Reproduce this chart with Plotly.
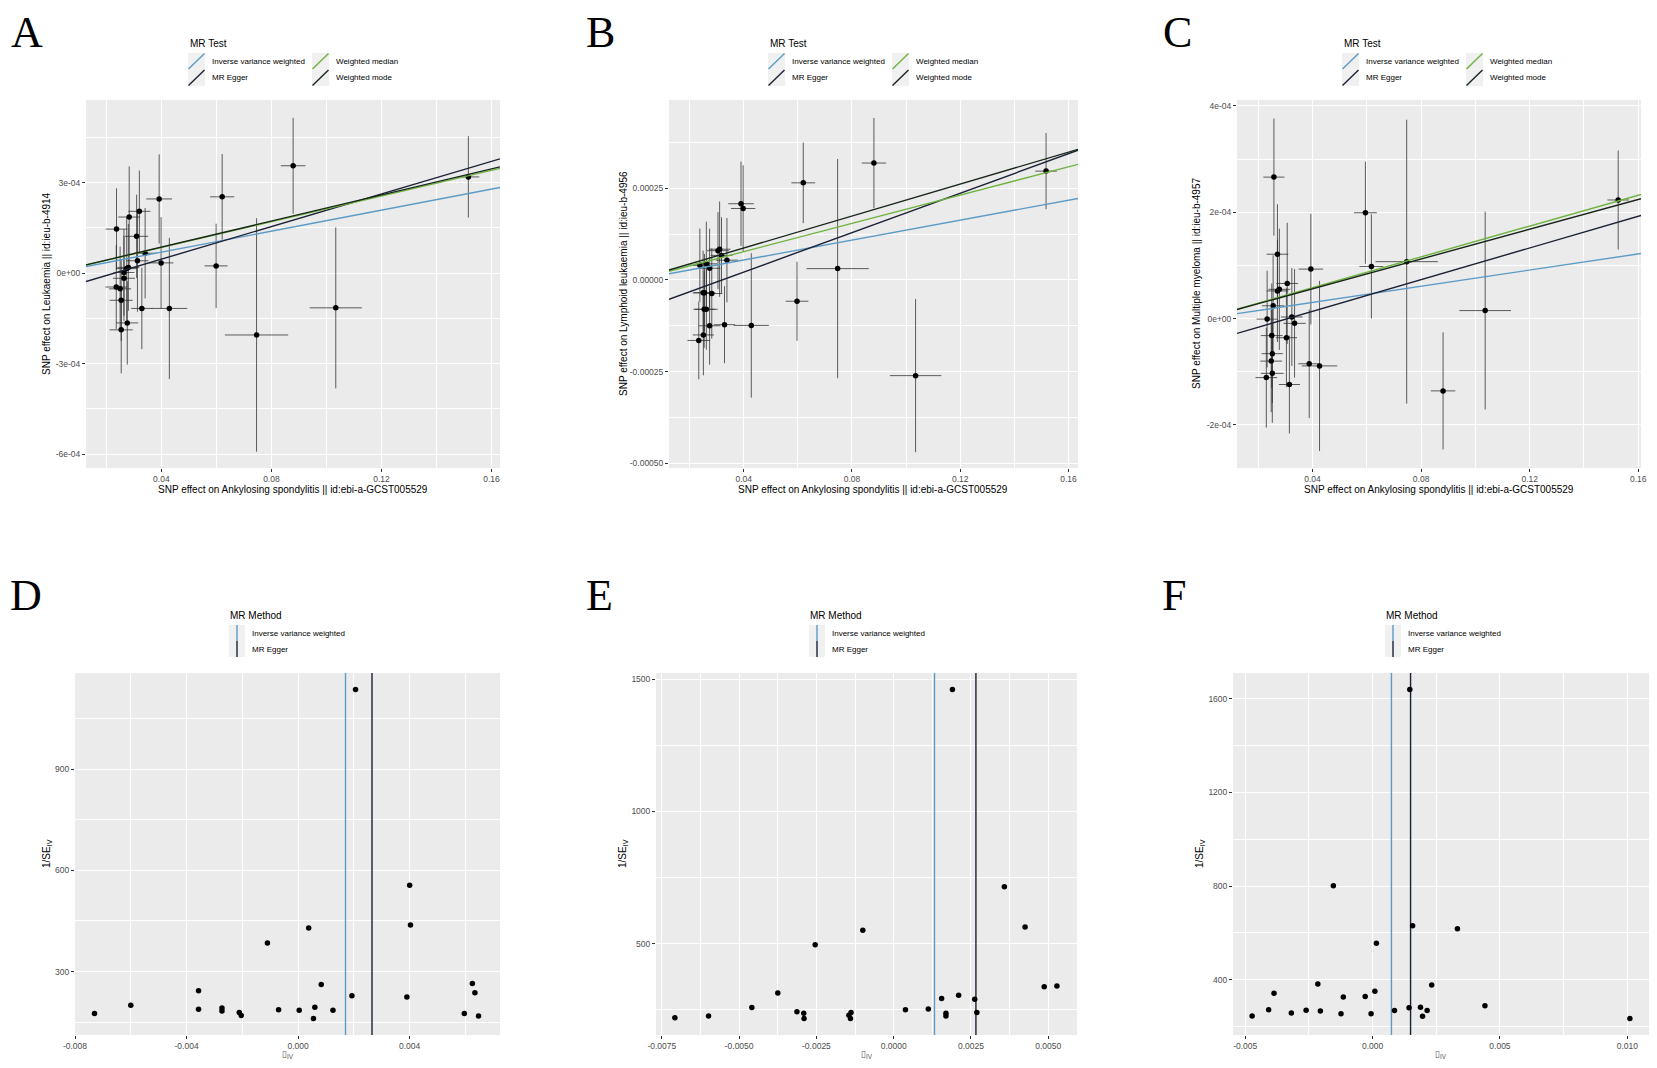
import plotly.graph_objects as go

# page is 1657x1068; the browser body has an 8px margin, so the figure is 16px smaller
W, H = 1657, 1068
OFF = 8
FW, FH = W - 2 * OFF, H - 2 * OFF

# ---------------- DATA ----------------
methods4 = ["Inverse variance weighted", "MR Egger", "Weighted median", "Weighted mode"]
methods2 = ["Inverse variance weighted", "MR Egger"]
x_title_scatter = "SNP effect on Ankylosing spondylitis || id:ebi-a-GCST005529"

# Panel A: Leukaemia
a_bx = [0.0237, 0.0283, 0.0320, 0.0310, 0.0313, 0.0341, 0.0392, 0.0399, 0.0429, 0.0329, 0.0621, 0.0599, 0.0879,
        0.0746, 0.1034, 0.1516, 0.0264, 0.0264, 0.0236, 0.0250, 0.0254, 0.0276, 0.0254, 0.0280, 0.0274]
a_by = [1.46e-4, 1.86e-4, 2.05e-4, 1.22e-4, 0.41e-4, 0.66e-4, 2.46e-4, 0.34e-4, -1.17e-4, -1.17e-4, 2.53e-4, 0.24e-4,
        3.56e-4, -2.05e-4, -1.15e-4, 3.19e-4, 0.02e-4, -0.17e-4, -0.46e-4, -0.52e-4, -0.90e-4, -1.65e-4, -1.88e-4,
        0.19e-4, 0.15e-4]
a_sx = [0.0039, 0.0040, 0.0040, 0.0042, 0.0040, 0.0041, 0.0047, 0.0045, 0.0065, 0.0039, 0.0044, 0.0042, 0.0045,
        0.0115, 0.0095, 0.0040, 0.0038, 0.0040, 0.0039, 0.0040, 0.0042, 0.0040, 0.0042, 0.0040, 0.0039]
a_sy = [1.35e-4, 1.68e-4, 1.35e-4, 1.38e-4, 1.69e-4, 1.50e-4, 1.48e-4, 1.52e-4, 2.34e-4, 1.35e-4, 1.42e-4, 1.40e-4,
        1.59e-4, 3.87e-4, 2.67e-4, 1.35e-4, 1.43e-4, 1.41e-4, 1.39e-4, 1.40e-4, 1.35e-4, 1.38e-4, 1.44e-4, 1.44e-4,
        1.70e-4]
a_slope = [1.74e-3, 2.70e-3, 2.13e-3, 2.16e-3]
a_icpt = [0.0, -0.616e-4, 0.0, 0.0]
a_ylabel = "SNP effect on Leukaemia || id:ieu-b-4914"
a_yticks = [-6e-4, -3e-4, 0.0, 3e-4]
a_yticktext = ["-6e-04", "-3e-04", "0e+00", "3e-04"]

# Panel B: Lymphoid leukaemia
b_bx = [0.0238, 0.0262, 0.0274, 0.0311, 0.0318, 0.0338, 0.0390, 0.0398, 0.0250, 0.0255, 0.0282, 0.0254, 0.0262,
        0.0274, 0.0329, 0.0428, 0.0251, 0.0234, 0.0597, 0.0620, 0.0747, 0.0881, 0.1035, 0.1517, 0.0305]
b_by = [0.40e-4, 0.44e-4, 0.32e-4, 0.84e-4, 0.67e-4, 0.54e-4, 2.08e-4, 1.95e-4, -0.35e-4, -0.35e-4, -0.37e-4,
        -0.80e-4, -0.80e-4, -1.25e-4, -1.22e-4, -1.24e-4, -1.50e-4, -1.65e-4, -0.58e-4, 2.65e-4, 0.31e-4, 3.19e-4,
        -2.61e-4, 2.97e-4, 0.80e-4]
b_sx = [0.0039, 0.0040, 0.0040, 0.0040, 0.0040, 0.0041, 0.0047, 0.0045, 0.0038, 0.0040, 0.0039, 0.0040, 0.0042,
        0.0040, 0.0039, 0.0065, 0.0039, 0.0042, 0.0042, 0.0044, 0.0115, 0.0045, 0.0095, 0.0040, 0.0040]
b_sy = [1.00e-4, 1.15e-4, 1.08e-4, 1.30e-4, 1.04e-4, 1.15e-4, 1.15e-4, 1.18e-4, 1.15e-4, 1.06e-4, 1.23e-4, 1.05e-4,
        1.10e-4, 1.06e-4, 1.05e-4, 1.97e-4, 1.10e-4, 1.06e-4, 1.08e-4, 1.10e-4, 2.99e-4, 1.23e-4, 2.09e-4, 1.04e-4,
        1.05e-4]
b_slope = [1.36e-3, 2.69e-3, 1.93e-3, 2.18e-3]
b_icpt = [0.0, -0.86e-4, 0.0, 0.0]
b_ylabel = "SNP effect on Lymphoid leukaemia || id:ieu-b-4956"
b_yticks = [-0.0005, -0.00025, 0.0, 0.00025]
b_yticktext = ["-0.00050", "-0.00025", "0.00000", "0.00025"]

# Panel C: Multiple myeloma
c_bx = [0.0258, 0.0271, 0.0271, 0.0278, 0.0307, 0.0255, 0.0233, 0.0250, 0.0252, 0.0248, 0.0252, 0.0230, 0.0304,
        0.0324, 0.0334, 0.0315, 0.0394, 0.0388, 0.0426, 0.0595, 0.0617, 0.0747, 0.0881, 0.1036, 0.1526]
c_by = [2.66e-4, 1.21e-4, 0.52e-4, 0.55e-4, 0.66e-4, 0.24e-4, -0.01e-4, -0.32e-4, -0.66e-4, -0.80e-4, -1.03e-4,
        -1.11e-4, -0.36e-4, 0.03e-4, -0.09e-4, -1.24e-4, 0.93e-4, -0.85e-4, -0.89e-4, 1.99e-4, 0.98e-4, 1.07e-4,
        -1.36e-4, 0.15e-4, 2.23e-4]
c_sx = [0.0039, 0.0040, 0.0040, 0.0040, 0.0040, 0.0041, 0.0039, 0.0040, 0.0039, 0.0040, 0.0042, 0.0040, 0.0039,
        0.0040, 0.0041, 0.0039, 0.0045, 0.0040, 0.0065, 0.0042, 0.0044, 0.0115, 0.0045, 0.0095, 0.0040]
c_sy = [1.10e-4, 0.94e-4, 0.96e-4, 1.14e-4, 1.14e-4, 0.95e-4, 0.91e-4, 0.98e-4, 0.93e-4, 0.96e-4, 0.93e-4, 0.94e-4,
        0.93e-4, 0.92e-4, 1.02e-4, 0.92e-4, 1.04e-4, 1.02e-4, 1.60e-4, 0.96e-4, 0.98e-4, 2.67e-4, 1.10e-4, 1.86e-4,
        0.93e-4]
c_slope = [0.76e-3, 1.49e-3, 1.45e-3, 1.40e-3]
c_icpt = [0.0, -0.46e-4, 0.0, 0.0]
c_ylabel = "SNP effect on Multiple myeloma || id:ieu-b-4957"
c_yticks = [-2e-4, 0.0, 2e-4, 4e-4]
c_yticktext = ["-2e-04", "0e+00", "2e-04", "4e-04"]

scatter_xticks = [0.04, 0.08, 0.12, 0.16]
scatter_xticktext = ["0.04", "0.08", "0.12", "0.16"]

# Panel D: funnel Leukaemia
d_b = [-0.0073, -0.0060, -0.00357, -0.00357, -0.00273, -0.00273, -0.00211, -0.00204, -0.0011, -0.0007, 0.00004,
       0.00038, 0.0006, 0.00055, 0.00083, 0.00125, 0.00193, 0.00206, 0.0039, 0.0040, 0.00403, 0.00596, 0.00625,
       0.00634, 0.00647]
d_w = [176, 200, 243, 188, 192, 183, 179, 170, 385, 187, 185, 429, 194, 161, 262, 185, 228, 1136, 225, 556, 438,
       176, 265, 237, 168]
d_est = [0.0017, 0.00265]
d_xticks = [-0.008, -0.004, 0.0, 0.004]
d_xticktext = ["-0.008", "-0.004", "0.000", "0.004"]
d_yticks = [300, 600, 900]

# Panel E: funnel Lymphoid leukaemia
e_b = [-0.00708, -0.00599, -0.00459, -0.00375, -0.00313, -0.00291, -0.0029, -0.00254, -0.00145, -0.00138, -0.0014,
       -0.0010, 0.00038, 0.00112, 0.00155, 0.00169, 0.00169, 0.0021, 0.00262, 0.00269, 0.00358, 0.00425, 0.00487,
       0.00528, 0.0019]
e_w = [220, 227, 259, 314, 243, 237, 217, 496, 230, 240, 217, 551, 250, 253, 293, 237, 227, 305, 290, 240, 715, 563,
       337, 340, 1461]
e_est = [0.00132, 0.00266]
e_xticks = [-0.0075, -0.005, -0.0025, 0.0, 0.0025, 0.005]
e_xticktext = ["-0.0075", "-0.0050", "-0.0025", "0.0000", "0.0025", "0.0050"]
e_yticks = [500, 1000, 1500]

# Panel F: funnel Multiple myeloma
f_b = [-0.00473, -0.00408, -0.00387, -0.00319, -0.00261, -0.00215, -0.00205, -0.00154, -0.00124, -0.00115, -0.00029,
       -0.00006, 0.00009, 0.00015, 0.00086, 0.00143, 0.00157, 0.00188, 0.00196, 0.00214, 0.00232, 0.00333, 0.00441,
       0.0101, 0.00146]
f_w = [245, 272, 342, 258, 270, 382, 266, 801, 255, 326, 328, 255, 351, 556, 269, 280, 631, 283, 244, 269, 378, 618,
       289, 234, 1640]
f_est = [0.00074, 0.00149]
f_xticks = [-0.005, 0.0, 0.005, 0.010]
f_xticktext = ["-0.005", "0.000", "0.005", "0.010"]
f_yticks = [400, 800, 1200, 1600]

# ---------------- STYLE ----------------
FONT = "Liberation Sans"
line_colors = ["#5b9bc8", "#1b2236", "#6db33f", "#18261a"]
ERR = "rgba(45,45,45,0.85)"
PANEL_BG = "#ebebeb"


def px(x):
    return (x - OFF) / FW


def py(y):
    return 1 - (y - OFF) / FH


def axis(dom, anchor, rng, tv, tt, minor):
    return dict(domain=dom, anchor=anchor, range=rng, tickmode="array", tickvals=tv, ticktext=tt,
                showgrid=True, gridcolor="white", gridwidth=1.1, zeroline=False, showline=False,
                ticks="outside", ticklen=3, tickwidth=1, tickcolor="#333333",
                tickfont=dict(family=FONT, size=8.5, color="#4d4d4d"),
                minor=dict(tickmode="array", tickvals=minor, showgrid=True, gridcolor="white", gridwidth=0.5),
                fixedrange=True)


fig = go.Figure()
layout = dict(width=FW, height=FH, margin=dict(l=0, r=0, t=0, b=0, autoexpand=False), paper_bgcolor="white",
              plot_bgcolor=PANEL_BG, showlegend=False, font=dict(family=FONT, color="black"))
annotations = []
shapes = []

scatter_panels = [
    ("", a_bx, a_by, a_sx, a_sy, a_slope, a_icpt, (86, 500, 100, 468), [0.0126, 0.1631], [-6.46e-4, 5.74e-4],
     a_yticks, a_yticktext, [-4.5e-4, -1.5e-4, 1.5e-4, 4.5e-4], a_ylabel, 46, 0),
    ("2", b_bx, b_by, b_sx, b_sy, b_slope, b_icpt, (669, 1078, 100, 468), [0.0124, 0.1635], [-5.13e-4, 4.91e-4],
     b_yticks, b_yticktext, [-3.75e-4, -1.25e-4, 1.25e-4, 3.75e-4], b_ylabel, 623, 580),
    ("3", c_bx, c_by, c_sx, c_sy, c_slope, c_icpt, (1237, 1641, 100, 468), [0.0122, 0.1610], [-2.81e-4, 4.11e-4],
     c_yticks, c_yticktext, [-1e-4, 1e-4, 3e-4], c_ylabel, 1196, 1154),
]

for (sfx, bx, by, sx, sy, slope, icpt, box, xr, yr, ytv, ytt, yminor, ylabel, ytx, lox) in scatter_panels:
    x0, x1, y0, y1 = box
    xa = "x" + sfx
    ya = "y" + sfx
    layout["xaxis" + sfx] = axis([px(x0), px(x1)], ya, xr, scatter_xticks, scatter_xticktext,
                                 [0.02, 0.06, 0.10, 0.14])
    layout["yaxis" + sfx] = axis([py(y1), py(y0)], xa, yr, ytv, ytt, yminor)
    fig.add_trace(go.Scatter(x=bx, y=by, mode="markers", xaxis=xa, yaxis=ya,
                             marker=dict(color="black", size=5.5),
                             error_x=dict(type="data", array=sx, visible=True, color=ERR, thickness=0.9, width=0),
                             error_y=dict(type="data", array=sy, visible=True, color=ERR, thickness=0.9, width=0),
                             hoverinfo="skip"))
    for k in range(4):
        fig.add_trace(go.Scatter(x=xr, y=[icpt[k] + slope[k] * xr[0], icpt[k] + slope[k] * xr[1]],
                                 mode="lines", xaxis=xa, yaxis=ya, name=methods4[k],
                                 line=dict(color=line_colors[k], width=1.4), hoverinfo="skip"))
    annotations.append(dict(text=x_title_scatter, x=px((x0 + x1) / 2), y=py(489), xref="paper", yref="paper",
                            showarrow=False, xanchor="center", yanchor="middle",
                            font=dict(family=FONT, size=10, color="black")))
    annotations.append(dict(text=ylabel, x=px(ytx), y=py((y0 + y1) / 2), xref="paper", yref="paper",
                            showarrow=False, textangle=-90, xanchor="center", yanchor="middle",
                            font=dict(family=FONT, size=10, color="black")))
    annotations.append(dict(text="MR Test", x=px(lox + 188), y=py(43), xref="paper", yref="paper",
                            showarrow=False, xanchor="left", yanchor="middle",
                            font=dict(family=FONT, size=10, color="black")))
    for k in range(4):
        col, row = k // 2, k % 2
        kx0 = lox + (188 if col == 0 else 312)
        kx1 = kx0 + 17
        ky0 = 53 + row * 16.5
        ky1 = ky0 + 16.5
        shapes.append(dict(type="rect", xref="paper", yref="paper", x0=px(kx0), x1=px(kx1), y0=py(ky1),
                           y1=py(ky0), fillcolor="#f0f0f0", line=dict(width=0), layer="below"))
        shapes.append(dict(type="line", xref="paper", yref="paper", x0=px(kx0 + 0.5), x1=px(kx1 - 0.5),
                           y0=py(ky1 - 0.5), y1=py(ky0 + 0.5), line=dict(color=line_colors[k], width=1.4)))
        annotations.append(dict(text=methods4[k], x=px(kx1 + 5), y=py((ky0 + ky1) / 2), xref="paper",
                                yref="paper", showarrow=False, xanchor="left", yanchor="middle",
                                font=dict(family=FONT, size=8, color="black")))

FB = 1035  # bottom of funnel panels
funnel_panels = [
    ("4", d_b, d_w, d_est, (75, 500, 673, FB), [-0.0080, 0.00724], [112, 1185], d_xticks, d_xticktext,
     [-0.006, -0.002, 0.002, 0.006], d_yticks, [150, 450, 750, 1050], 47, 0),
    ("5", e_b, e_w, e_est, (656, 1077, 673, FB), [-0.00769, 0.00593], [155, 1523], e_xticks, e_xticktext,
     [-0.00625, -0.00375, -0.00125, 0.00125, 0.00375], e_yticks, [250, 750, 1250], 623, 580),
    ("6", f_b, f_w, f_est, (1233, 1649, 673, FB), [-0.00548, 0.01085], [164, 1710], f_xticks, f_xticktext,
     [-0.0025, 0.0025, 0.0075], f_yticks, [200, 600, 1000, 1400], 1200, 1156),
]

for (sfx, b, w, est, box, xr, yr, xtv, xtt, xminor, ytv, yminor, ytx, lox) in funnel_panels:
    x0, x1, y0, y1 = box
    xa = "x" + sfx
    ya = "y" + sfx
    layout["xaxis" + sfx] = axis([px(x0), min(1.0, px(x1))], ya, xr, xtv, xtt, xminor)
    layout["yaxis" + sfx] = axis([py(y1), py(y0)], xa, yr, ytv, [str(v) for v in ytv], yminor)
    for k in range(2):
        fig.add_trace(go.Scatter(x=[est[k], est[k]], y=yr, mode="lines", xaxis=xa, yaxis=ya,
                                 name=methods2[k], line=dict(color=line_colors[k], width=1.4),
                                 hoverinfo="skip"))
    fig.add_trace(go.Scatter(x=b, y=w, mode="markers", xaxis=xa, yaxis=ya,
                             marker=dict(color="black", size=5.5), hoverinfo="skip"))
    annotations.append(dict(text="\u25af<sub>IV</sub>", x=px((x0 + x1) / 2), y=py(1054), xref="paper",
                            yref="paper", showarrow=False, xanchor="center", yanchor="middle",
                            font=dict(family=FONT, size=9, color="#555555")))
    annotations.append(dict(text="1/SE<sub>IV</sub>", x=px(ytx), y=py((y0 + y1) / 2), xref="paper",
                            yref="paper", showarrow=False, textangle=-90, xanchor="center", yanchor="middle",
                            font=dict(family=FONT, size=10, color="black")))
    annotations.append(dict(text="MR Method", x=px(lox + 228), y=py(615), xref="paper", yref="paper",
                            showarrow=False, xanchor="left", yanchor="middle",
                            font=dict(family=FONT, size=10, color="black")))
    for k in range(2):
        kx0 = lox + 229
        kx1 = kx0 + 16
        ky0 = 625 + k * 16
        ky1 = ky0 + 16
        shapes.append(dict(type="rect", xref="paper", yref="paper", x0=px(kx0), x1=px(kx1), y0=py(ky1),
                           y1=py(ky0), fillcolor="#f0f0f0", line=dict(width=0), layer="below"))
        shapes.append(dict(type="line", xref="paper", yref="paper", x0=px(kx0 + 8), x1=px(kx0 + 8),
                           y0=py(ky1), y1=py(ky0), line=dict(color=line_colors[k], width=1.4)))
        annotations.append(dict(text=methods2[k], x=px(kx1 + 5), y=py((ky0 + ky1) / 2), xref="paper",
                                yref="paper", showarrow=False, xanchor="left", yanchor="middle",
                                font=dict(family=FONT, size=8, color="black")))

# panel letters (centre of the glyph)
letters = [("A", 26.5, 32.5), ("B", 600, 32.5), ("C", 1177, 32.5), ("D", 26, 595), ("E", 599, 595),
           ("F", 1174, 595)]
for (t, lx, ly) in letters:
    annotations.append(dict(text=t, x=px(lx), y=py(ly), xref="paper", yref="paper", showarrow=False,
                            xanchor="center", yanchor="middle",
                            font=dict(family="Liberation Serif", size=44, color="black")))

layout["annotations"] = annotations
layout["shapes"] = shapes
fig.update_layout(**layout)
fig.write_html("out.html")
